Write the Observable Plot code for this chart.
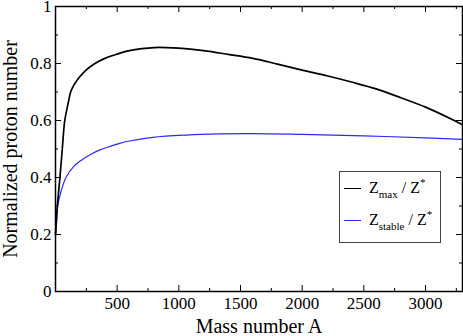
<!DOCTYPE html>
<html><head><meta charset="utf-8">
<script src="https://cdn.jsdelivr.net/npm/d3@7"></script>
<script src="https://cdn.jsdelivr.net/npm/@observablehq/plot@0.6"></script>
<style>
body{margin:0;background:#fff;}
#wrap{position:relative;width:463px;height:336px;font-family:"Liberation Serif",serif;}
#wrap svg, #wrap svg g, #wrap svg text{font-family:"Liberation Serif",serif !important;}
#legend{position:absolute;left:339px;top:171px;width:100px;height:70px;border:1px solid #444;background:#fff;font-size:16px;color:#000;}
.row{position:absolute;left:0;height:20px;width:100px;}
.sw{position:absolute;left:4px;width:17px;top:10px;height:0;border-top:1px solid;}
.lab{position:absolute;left:29px;top:0;white-space:nowrap;line-height:20px;}
.lab sub{font-size:11px;vertical-align:-5px;line-height:0;}
.lab sup{font-size:11px;vertical-align:7px;line-height:0;}
</style>
</head><body>
<div id="wrap"></div>
<script>
const xMajor = [500, 1000, 1500, 2000, 2500, 3000];
const xMinor = [250, 750, 1250, 1750, 2250, 2750, 3250];
const yMajor = [0, 0.2, 0.4, 0.6, 0.8, 1];
const yMajorLabels = ["0", "0.2", "0.4", "0.6", "0.8", "1"];
const yMinor = [0.1, 0.3, 0.5, 0.7, 0.9];

const seriesNames = ["Zmax / Z*", "Zstable / Z*"];
const seriesColors = ["#000000", "#2a2aff"];

const maxA =   [0, 15, 36, 55, 75, 100, 123, 150, 200, 250, 320, 400, 500, 600, 700, 800, 900, 1000, 1200, 1400, 1600, 1800, 2000, 2200, 2400, 2600, 2800, 3000, 3200, 3300];
const maxZ =   [0.2, 0.30, 0.40, 0.50, 0.60, 0.655, 0.70, 0.725, 0.755, 0.778, 0.80, 0.818, 0.833, 0.845, 0.852, 0.856, 0.856, 0.854, 0.845, 0.832, 0.818, 0.798, 0.777, 0.757, 0.735, 0.711, 0.68, 0.647, 0.607, 0.585];

const stabA =  [0, 10, 18, 44, 85, 150, 225, 295, 360, 450, 520, 600, 790, 1060, 1330, 1600, 2000, 2500, 3000, 3300];
const stabZ =  [0.2, 0.25, 0.30, 0.35, 0.40, 0.44, 0.465, 0.483, 0.497, 0.51, 0.52, 0.528, 0.541, 0.549, 0.553, 0.554, 0.551, 0.546, 0.539, 0.534];

const maxData = maxA.map((a, i) => ({A: a, v: maxZ[i]}));
const stabData = stabA.map((a, i) => ({A: a, v: stabZ[i]}));

const FONT = "Liberation Serif";
const H = 336, MT = 6, MB = 45, W = 463, ML = 55, MR = 1;
const frameH = H - MT - MB, frameW = W - ML - MR;

const chart = Plot.plot({
  width: W, height: H,
  marginLeft: ML, marginRight: MR, marginTop: MT, marginBottom: MB,
  style: {fontFamily: FONT, fontSize: "17px", background: "white", color: "black"},
  x: {domain: [0, 3300]},
  y: {domain: [0, 1]},
  marks: [
    Plot.line(stabData, {x: "A", y: "v", stroke: seriesColors[1], strokeWidth: 1.2, curve: "catmull-rom"}),
    Plot.line(maxData, {x: "A", y: "v", stroke: seriesColors[0], strokeWidth: 1.7, curve: "catmull-rom"}),
    Plot.tickX(xMajor, {x: d => d, insetTop: frameH - 6, stroke: "black"}),
    Plot.tickX(xMajor, {x: d => d, insetBottom: frameH - 6, stroke: "black"}),
    Plot.tickX(xMinor, {x: d => d, insetTop: frameH - 3, stroke: "black"}),
    Plot.tickX(xMinor, {x: d => d, insetBottom: frameH - 3, stroke: "black"}),
    Plot.tickY(yMajor, {y: d => d, insetRight: frameW - 6, stroke: "black"}),
    Plot.tickY(yMajor, {y: d => d, insetLeft: frameW - 6, stroke: "black"}),
    Plot.tickY(yMinor, {y: d => d, insetRight: frameW - 3, stroke: "black"}),
    Plot.tickY(yMinor, {y: d => d, insetLeft: frameW - 3, stroke: "black"}),
    Plot.axisX({ticks: xMajor, tickSize: 0, tickPadding: 5, tickFormat: d => String(d), label: null, fontSize: 17, fontFamily: FONT, fontVariant: "normal"}),
    Plot.axisY({ticks: yMajor, tickSize: 0, tickPadding: 4, tickFormat: d => yMajorLabels[yMajor.indexOf(d)], label: null, fontSize: 17, fontFamily: FONT, fontVariant: "normal"}),
    Plot.frame({stroke: "black", strokeWidth: 1.5}),
    Plot.text(["Mass number A"], {frameAnchor: "bottom", dy: 35, lineAnchor: "middle", textAnchor: "middle", fontSize: 20, fontFamily: FONT, fill: "black"}),
    Plot.text(["Normalized proton number"], {frameAnchor: "left", dx: -45, rotate: -90, lineAnchor: "middle", textAnchor: "middle", fontSize: 20, fontFamily: FONT, fill: "black"})
  ]
});

const wrap = document.getElementById("wrap");
wrap.appendChild(chart);

const legend = document.createElement("div");
legend.id = "legend";
const labels = [
  'Z<sub>max</sub> / Z<sup>*</sup>',
  'Z<sub>stable</sub> / Z<sup>*</sup>'
];
const tops = [6, 38];
seriesNames.forEach((name, i) => {
  const row = document.createElement("div");
  row.className = "row";
  row.style.top = tops[i] + "px";
  row.innerHTML = `<div class="sw" style="border-color:${seriesColors[i]}"></div><div class="lab">${labels[i]}</div>`;
  legend.appendChild(row);
});
wrap.appendChild(legend);
</script>
</body></html>
